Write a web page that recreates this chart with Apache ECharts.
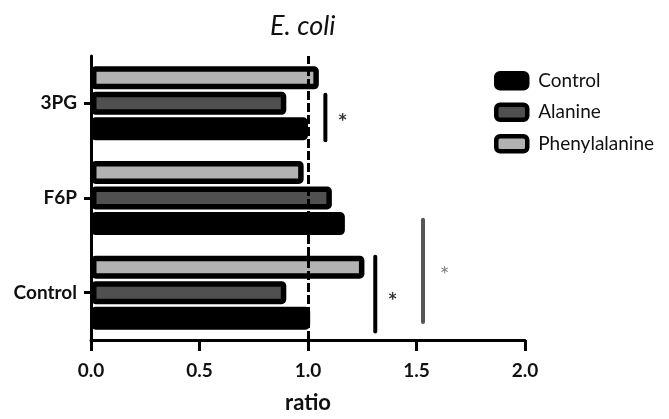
<!DOCTYPE html>
<html>
<head>
<meta charset="utf-8">
<script src="https://cdn.jsdelivr.net/npm/echarts@6/dist/echarts.min.js"></script>
<style>
  html, body { margin: 0; padding: 0; background: #fff; }
  #chart { width: 669px; height: 419px; }
</style>
</head>
<body>
<div id="chart"></div>
<script>
// categories bottom -> top
const categories = ["Control", "F6P", "3PG"];
const seriesNames = ["Control", "Alanine", "Phenylalanine"];
const controlVals = [1.01, 1.17, 1.0];
const alanineVals = [0.90, 1.11, 0.90];
const pheVals = [1.26, 0.98, 1.05];

// significance brackets: [x, yFrom, yTo] in (ratio, category-index) units
const sigBlack = [[1.08, 1.61, 2.09], [1.31, -0.41, 0.38]];
const sigGray = [[1.53, -0.31, 0.77]];
const starsBlack = [[1.16, 1.85], [1.39, -0.04]];
const starsGray = [[1.63, 0.23]];

const font = "Lato";
var myChart = echarts.init(document.getElementById("chart"));

function barSeries(name, data, color) {
  return {
    name: name,
    type: "bar",
    data: data,
    barWidth: 23,
    barGap: "11%",
    itemStyle: {
      color: color,
      borderColor: "#000",
      borderWidth: 5.5,
      borderRadius: 2,
    },
  };
}

function bracket(list, color) {
  return list.map((b) => ({
    type: "line",
    xAxisIndex: 0,
    yAxisIndex: 1,
    data: [[b[0], b[1]], [b[0], b[2]]],
    symbol: "none",
    silent: true,
    lineStyle: { color: color, width: 4, cap: "round" },
    z: 5,
  }));
}

function stars(list, color, weight) {
  return {
    type: "scatter",
    xAxisIndex: 0,
    yAxisIndex: 1,
    data: list,
    symbolSize: 1,
    itemStyle: { color: "rgba(0,0,0,0)" },
    silent: true,
    label: {
      show: true,
      position: "inside",
      offset: [0, 5],
      formatter: "*",
      color: color,
      fontFamily: font,
      fontWeight: weight,
      fontSize: 23,
    },
  };
}

const controlSeries = barSeries(seriesNames[0], controlVals, "#000");
controlSeries.markLine = {
  silent: true,
  symbol: "none",
  label: { show: false },
  lineStyle: { color: "#000", width: 3, type: [9, 3] },
  data: [{ xAxis: 1.0 }],
};

const option = {
  animation: false,
  title: {
    text: "E. coli",
    left: 265,
    top: 8,
    textStyle: {
      fontFamily: font,
      fontStyle: "italic",
      fontWeight: "normal",
      fontSize: 27,
      color: "#111",
    },
  },
  legend: {
    orient: "vertical",
    left: 489,
    top: 66,
    itemWidth: 31,
    itemHeight: 15,
    itemGap: 12,
    icon: "roundRect",
    data: seriesNames,
    itemStyle: { borderWidth: 4.5 },
    textStyle: {
      fontFamily: font,
      fontSize: 19,
      color: "#111",
      padding: [0, 0, 0, 6],
    },
  },
  grid: { left: 91, right: 144, top: 56, bottom: 74, containLabel: false },
  xAxis: {
    type: "value",
    min: 0,
    max: 2,
    interval: 0.5,
    name: "ratio",
    nameLocation: "middle",
    nameGap: 52,
    nameTextStyle: { fontFamily: font, fontWeight: "bold", fontSize: 22, color: "#111" },
    axisLine: { show: true, onZero: false, lineStyle: { color: "#000", width: 3 } },
    axisTick: { show: true, length: 11, lineStyle: { color: "#000", width: 3 } },
    splitLine: { show: false },
    axisLabel: {
      margin: 21,
      fontFamily: font,
      fontWeight: "bold",
      fontSize: 19,
      color: "#111",
      formatter: (v) => v.toFixed(1),
    },
  },
  yAxis: [
    {
      type: "category",
      data: categories,
      axisLine: { show: true, lineStyle: { color: "#000", width: 3 } },
      axisTick: { show: true, alignWithLabel: true, length: 7, lineStyle: { color: "#000", width: 3 } },
      axisLabel: { margin: 14, fontFamily: font, fontWeight: "bold", fontSize: 19, color: "#111" },
    },
    { type: "value", min: -0.5, max: 2.5, show: false },
  ],
  series: [
    barSeries(seriesNames[2], pheVals, "#b2b2b2"),
    barSeries(seriesNames[1], alanineVals, "#505050"),
    controlSeries,
  ]
    .concat(bracket(sigBlack, "#000"))
    .concat(bracket(sigGray, "#555"))
    .concat([stars(starsBlack, "#000", "bold"), stars(starsGray, "#666", "normal")]),
};

myChart.setOption(option);
</script>
</body>
</html>
